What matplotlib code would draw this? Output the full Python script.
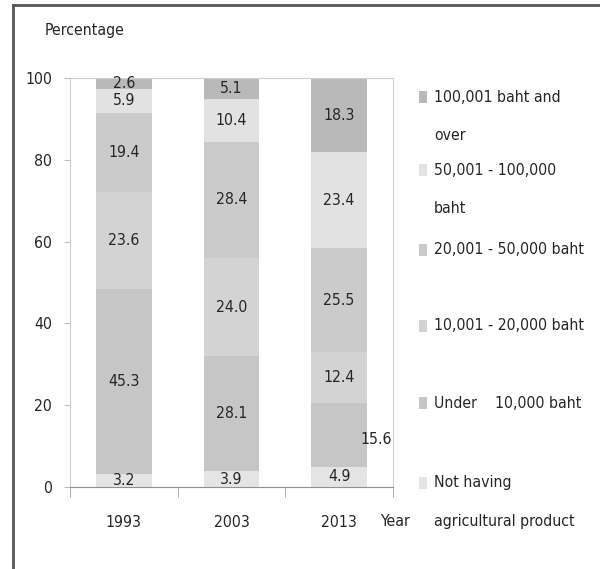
import matplotlib
matplotlib.use("Agg")
import matplotlib.pyplot as plt
from matplotlib import font_manager
from matplotlib.patches import Rectangle
from matplotlib.lines import Line2D
import numpy as np

# narrow font if there is one, otherwise Liberation Sans
fp = font_manager.FontProperties(family='DejaVu Sans', stretch='condensed')
path = font_manager.findfont(fp, fallback_to_default=False)
if 'Condensed' in path:
    plt.rcParams['font.family'] = ['DejaVu Sans']
    plt.rcParams['font.stretch'] = 'condensed'
    fs = 11.3
else:
    plt.rcParams['font.family'] = ['Liberation Sans', 'DejaVu Sans']
    fs = 11.3

# data
years = ["1993", "2003", "2013"]
groups = [["Not having", "agricultural product"], ["Under    10,000 baht"], ["10,001 - 20,000 baht"],
          ["20,001 - 50,000 baht"], ["50,001 - 100,000", "baht"], ["100,001 baht and", "over"]]
not_having = [3.2, 3.9, 4.9]
under_10k = [45.3, 28.1, 15.6]
from_10k = [23.6, 24.0, 12.4]
from_20k = [19.4, 28.4, 25.5]
from_50k = [5.9, 10.4, 23.4]
over_100k = [2.6, 5.1, 18.3]
series = [not_having, under_10k, from_10k, from_20k, from_50k, over_100k]
colors = ['#e4e4e4', '#c6c6c6', '#d3d3d3', '#cbcbcb', '#e2e2e2', '#b9b9b9']

W, H = 600, 569
fig = plt.figure(figsize=(W / 100, H / 100), dpi=100)
ax = fig.add_axes([70 / W, 1 - 487 / H, 323 / W, 409 / H])

txt = '#262626'
x = np.arange(len(years))
bottom = np.zeros(len(years))
for k, (vals, c) in enumerate(zip(series, colors)):
    vals = np.array(vals)
    ax.bar(x, vals, width=0.52, bottom=bottom, color=c, edgecolor='none')
    for i, v in enumerate(vals):
        if k == 1 and i == 2:
            # this label sits beside the bar
            ax.text(x[i] + 0.2, bottom[i] + v / 2 - 1.0, f"{v:.1f}", ha='left', va='center',
                    fontsize=fs, color=txt)
        else:
            ax.text(x[i], bottom[i] + v / 2, f"{v:.1f}", ha='center', va='center',
                    fontsize=fs, color=txt)
    bottom += vals

ax.set_xlim(-0.5, 2.5)
ax.set_ylim(0, 100)
ax.set_yticks([0, 20, 40, 60, 80, 100])
ax.tick_params(axis='y', length=4, color='#c0c0c0', pad=9, labelsize=fs, labelcolor=txt)
ax.set_xticks(x)
ax.set_xticklabels(years)
ax.tick_params(axis='x', length=0, pad=20, labelsize=fs, labelcolor=txt)
ax.set_xticks([-0.5, 0.5, 1.5, 2.5], minor=True)
ax.tick_params(axis='x', which='minor', length=7, color='#a0a0a0')
for s in ['left', 'top', 'right']:
    ax.spines[s].set_color('#d0d0d0')
ax.spines['bottom'].set_color('#909090')

fig.text(45 / W, 1 - 30 / H, "Percentage", ha='left', va='center', fontsize=fs, color=txt)
fig.text(380 / W, 1 - 521 / H, "Year", ha='left', va='center', fontsize=fs, color=txt)

# legend, top entry first
leg_y = [97, 170, 250, 326, 403, 483]
for lines, c, yy in zip(groups[::-1], colors[::-1], leg_y):
    fig.patches.append(Rectangle((419 / W, 1 - (yy + 6) / H), 8 / W, 12 / H,
                                 transform=fig.transFigure, facecolor=c, edgecolor='none'))
    for j, line in enumerate(lines):
        fig.text(434 / W, 1 - (yy + 38.5 * j) / H, line, ha='left', va='center',
                 fontsize=fs, color=txt)

# outer frame (top and left)
fig.add_artist(Line2D([13 / W, 1], [1 - 5 / H, 1 - 5 / H], color='#555555', lw=2))
fig.add_artist(Line2D([13 / W, 13 / W], [0, 1 - 5 / H], color='#555555', lw=2))

fig.savefig("out.png", dpi=100)
